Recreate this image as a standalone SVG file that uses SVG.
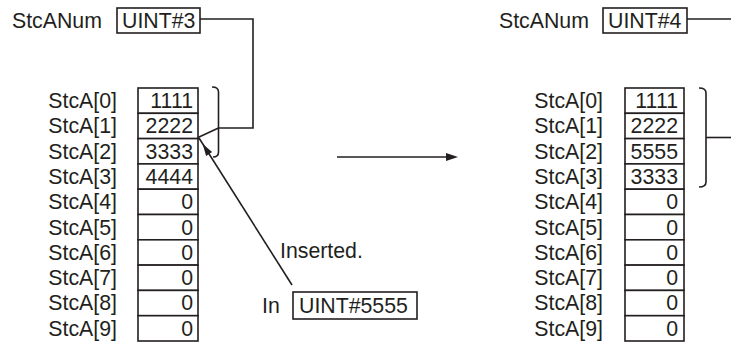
<svg xmlns="http://www.w3.org/2000/svg" width="731" height="344" viewBox="0 0 731 344">
<style>
text{font-family:"Liberation Sans",Arial,sans-serif;font-size:21.3px;fill:#231f20}
.lbl{text-anchor:end}
.val{text-anchor:end}
.box{fill:#fff;stroke:#231f20;stroke-width:1.6}
.ln{fill:none;stroke:#231f20;stroke-width:1.6}
.ah{fill:#231f20;stroke:none}
</style>
<rect width="731" height="344" fill="#fff"/>
<g id="left-stcanum">
<text x="12" y="28">StcANum</text>
<rect class="box" x="117" y="8" width="83" height="25"/>
<text x="122" y="28">UINT#3</text>
</g>
<g id="left-array">
<rect class="box" x="138" y="88" width="60" height="25.3"/>
<rect class="box" x="138" y="113.3" width="60" height="25.3"/>
<rect class="box" x="138" y="138.6" width="60" height="25.3"/>
<rect class="box" x="138" y="163.9" width="60" height="25.3"/>
<rect class="box" x="138" y="189.2" width="60" height="25.3"/>
<rect class="box" x="138" y="214.5" width="60" height="25.3"/>
<rect class="box" x="138" y="239.8" width="60" height="25.3"/>
<rect class="box" x="138" y="265.1" width="60" height="25.3"/>
<rect class="box" x="138" y="290.4" width="60" height="25.3"/>
<rect class="box" x="138" y="315.7" width="60" height="25.3"/>
<text class="lbl" x="117" y="108">StcA[0]</text>
<text class="lbl" x="117" y="133.3">StcA[1]</text>
<text class="lbl" x="117" y="158.6">StcA[2]</text>
<text class="lbl" x="117" y="183.9">StcA[3]</text>
<text class="lbl" x="117" y="209.2">StcA[4]</text>
<text class="lbl" x="117" y="234.5">StcA[5]</text>
<text class="lbl" x="117" y="259.8">StcA[6]</text>
<text class="lbl" x="117" y="285.1">StcA[7]</text>
<text class="lbl" x="117" y="310.4">StcA[8]</text>
<text class="lbl" x="117" y="335.7">StcA[9]</text>
<text class="val" x="193" y="108">1111</text>
<text class="val" x="193" y="133.3">2222</text>
<text class="val" x="193" y="158.6">3333</text>
<text class="val" x="193" y="183.9">4444</text>
<text class="val" x="193" y="209.2">0</text>
<text class="val" x="193" y="234.5">0</text>
<text class="val" x="193" y="259.8">0</text>
<text class="val" x="193" y="285.1">0</text>
<text class="val" x="193" y="310.4">0</text>
<text class="val" x="193" y="335.7">0</text>
</g>
<g id="input">
<text x="262" y="313">In</text>
<rect class="box" x="293" y="292" width="124" height="27"/>
<text x="299" y="313">UINT#5555</text>
</g>
<g id="inserted-label">
<text x="280" y="258">Inserted.</text>
</g>
<g id="right-stcanum">
<text x="499" y="28">StcANum</text>
<rect class="box" x="603" y="8" width="84" height="25"/>
<text x="608" y="28">UINT#4</text>
</g>
<g id="right-array">
<rect class="box" x="625" y="88" width="59" height="25.3"/>
<rect class="box" x="625" y="113.3" width="59" height="25.3"/>
<rect class="box" x="625" y="138.6" width="59" height="25.3"/>
<rect class="box" x="625" y="163.9" width="59" height="25.3"/>
<rect class="box" x="625" y="189.2" width="59" height="25.3"/>
<rect class="box" x="625" y="214.5" width="59" height="25.3"/>
<rect class="box" x="625" y="239.8" width="59" height="25.3"/>
<rect class="box" x="625" y="265.1" width="59" height="25.3"/>
<rect class="box" x="625" y="290.4" width="59" height="25.3"/>
<rect class="box" x="625" y="315.7" width="59" height="25.3"/>
<text class="lbl" x="603" y="108">StcA[0]</text>
<text class="lbl" x="603" y="133.3">StcA[1]</text>
<text class="lbl" x="603" y="158.6">StcA[2]</text>
<text class="lbl" x="603" y="183.9">StcA[3]</text>
<text class="lbl" x="603" y="209.2">StcA[4]</text>
<text class="lbl" x="603" y="234.5">StcA[5]</text>
<text class="lbl" x="603" y="259.8">StcA[6]</text>
<text class="lbl" x="603" y="285.1">StcA[7]</text>
<text class="lbl" x="603" y="310.4">StcA[8]</text>
<text class="lbl" x="603" y="335.7">StcA[9]</text>
<text class="val" x="678" y="108">1111</text>
<text class="val" x="678" y="133.3">2222</text>
<text class="val" x="678" y="158.6">5555</text>
<text class="val" x="678" y="183.9">3333</text>
<text class="val" x="678" y="209.2">0</text>
<text class="val" x="678" y="234.5">0</text>
<text class="val" x="678" y="259.8">0</text>
<text class="val" x="678" y="285.1">0</text>
<text class="val" x="678" y="310.4">0</text>
<text class="val" x="678" y="335.7">0</text>
</g>
<g id="connectors">
<path class="ln" d="M200,19 H253 V128 H218.5"/>
<path class="ln" d="M212,87 Q218.5,87 218.5,92 V152 Q218.5,157 213,157"/>
<path class="ln" d="M218.5,128 L198,137.5"/>
<path class="ln" d="M292,285 L199,138"/>
<polygon class="ah" points="202.7,143.9 212.1,152.1 206.1,155.9"/>
<path class="ln" d="M337,157 H448"/>
<polygon class="ah" points="458,157 446,153 446,161"/>
<path class="ln" d="M687,19 H731"/>
<path class="ln" d="M699,88 Q706,88 706,93 V182 Q706,187 699,187"/>
<path class="ln" d="M706,137.5 H731"/>
</g>
</svg>
